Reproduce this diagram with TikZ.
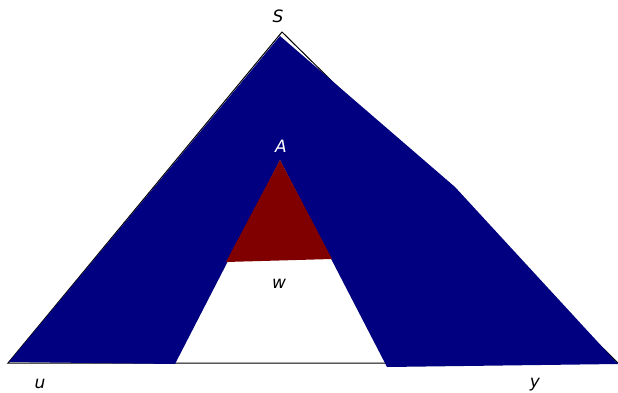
\documentclass[tikz,border=0pt]{standalone}
\usepackage{fontspec}
\setmainfont{DejaVu Sans}
\usetikzlibrary{positioning, calc}
\definecolor{treeNavy}{RGB}{0,0,128}
\definecolor{treeMaroon}{RGB}{128,0,0}
\tikzset{
    x=1pt, y=-1pt,
    tree_outline/.style={
        draw=black,
        line width=1pt
    },
    tree_fill/.style={
        fill=treeNavy,
        draw=none
    },
    sub_fill/.style={
        fill=treeMaroon,
        draw=none
    },
    tree_label/.style={
        font=\fontsize{17}{20}\selectfont\itshape,
        inner sep=0pt
    }
}

\begin{document}
\begin{tikzpicture}
\useasboundingbox (0,0) rectangle (618,393);

% --- Corners ---
\coordinate (Top) at (282,32);
\coordinate (LeftEnd) at (8,363);
\coordinate (RightEnd) at (618,363);
\coordinate (Apex) at (280,160);
\coordinate (WLeft) at (175,364);
\coordinate (WRight) at (387,367);

% --- Outer triangle ---
\draw[tree_outline] (Top) -- (LeftEnd) -- (RightEnd) -- cycle;

% --- Navy region ---
\fill[tree_fill] (280,36) -- (455,187) -- (618,364) -- (WRight) -- (Apex)
    -- (WLeft) -- (9,362) -- cycle;

% --- Subtree A ---
\fill[sub_fill] (Apex) -- (226,262) -- (332,259) -- cycle;

% --- Labels ---
\node[tree_label] (labS) at (278,16) {S};
\node[tree_label, text=white] (labA) at (281,146) {A};
\node[tree_label] (labW) at (279,284) {w};
\node[tree_label] (labU) at (40,384) {u};
\node[tree_label] (labY) at (535,385) {y};

\end{tikzpicture}
\end{document}
